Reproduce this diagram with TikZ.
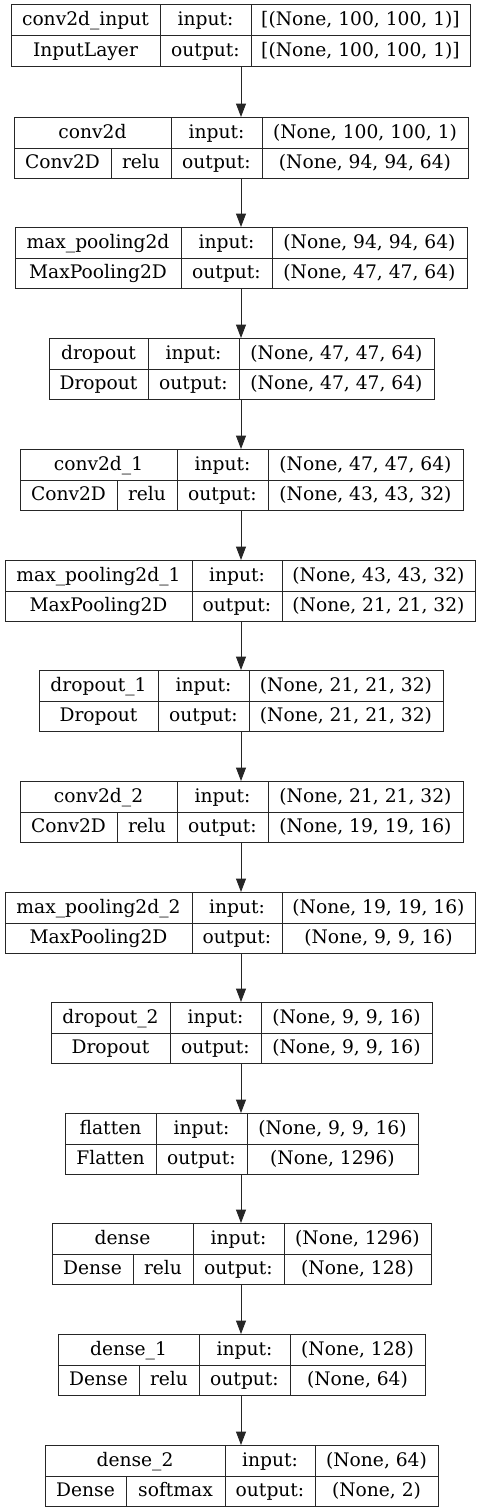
\documentclass[tikz,border=0pt]{standalone}
\usepackage{fontspec}
\setmainfont{DejaVu Serif}
\usetikzlibrary{arrows.meta}
\tikzset{
  ln/.style={draw=black!85, line width=1pt},
  layerbox/.style={ln, rectangle, inner sep=0pt, outer sep=0pt},
  txt/.style={anchor=base, inner sep=0pt, font=\fontsize{18.67}{22}\selectfont, text=black},
  arr/.style={ln, -{Triangle[length=13.5pt, width=10pt]}}
}
% geometry of one layer box
\newcommand\laybox[7]{%
  \pgfmathsetmacro\T{#2}\pgfmathsetmacro\Lx{#3}\pgfmathsetmacro\Rx{#4}%
  \pgfmathsetmacro\cA{#5}\pgfmathsetmacro\cB{#6}\def\cZ{#7}%
  \pgfmathsetmacro\M{\T+31}\pgfmathsetmacro\B{\T+61.5}%
  \pgfmathsetmacro\W{\Rx-\Lx}\pgfmathsetmacro\Cx{(\Lx+\Rx)/2}\pgfmathsetmacro\Cy{\T+30.75}%
  \node[layerbox, minimum width=\W pt, minimum height=61.5pt] (#1) at (\Cx,-\Cy) {};
  \draw[ln] (\Lx,-\M) -- (\Rx,-\M);
  \draw[ln] (\cA,-\T) -- (\cA,-\B);
  \draw[ln] (\cB,-\T) -- (\cB,-\B);
  \ifx\cZ\empty\else\draw[ln] (\cZ,-\M) -- (\cZ,-\B);\fi
}
% texts of the last layer box
\newcommand\laytext[5]{%
  \pgfmathsetmacro\yA{\T+21}\pgfmathsetmacro\yB{\T+51.5}%
  \node[txt] at ({(\Lx+\cA)/2},-\yA) {#1};
  \node[txt] at ({(\cA+\cB)/2},-\yA) {input:};
  \node[txt] at ({(\cB+\Rx)/2},-\yA) {#4};
  \def\act{#3}%
  \ifx\act\empty
    \node[txt] at ({(\Lx+\cA)/2},-\yB) {#2};
  \else
    \node[txt] at ({(\Lx+\cZ)/2},-\yB) {#2};
    \node[txt] at ({(\cZ+\cA)/2},-\yB) {#3};
  \fi
  \node[txt] at ({(\cA+\cB)/2},-\yB) {output:};
  \node[txt] at ({(\cB+\Rx)/2},-\yB) {#5};
}
\begin{document}
\begin{tikzpicture}[x=1pt,y=1pt]
\fill[white] (0,0) rectangle (483,-1512);
\useasboundingbox (0,0) rectangle (483,-1512);
\coordinate (axis) at (241,0);

\laybox{b1}{5}{11}{470}{160}{251}{}
\laytext{conv2d\_input}{InputLayer}{}{[(None, 100, 100, 1)]}{[(None, 100, 100, 1)]}

\laybox{b2}{117}{14}{468}{171}{262}{111}
\laytext{conv2d}{Conv2D}{relu}{(None, 100, 100, 1)}{(None, 94, 94, 64)}

\laybox{b3}{227}{15}{467}{181}{272}{}
\laytext{max\_pooling2d}{MaxPooling2D}{}{(None, 94, 94, 64)}{(None, 47, 47, 64)}

\laybox{b4}{338}{49}{434}{148}{239}{}
\laytext{dropout}{Dropout}{}{(None, 47, 47, 64)}{(None, 47, 47, 64)}

\laybox{b5}{449}{20}{463}{177}{268}{117}
\laytext{conv2d\_1}{Conv2D}{relu}{(None, 47, 47, 64)}{(None, 43, 43, 32)}

\laybox{b6}{560}{5}{475}{192}{282}{}
\laytext{max\_pooling2d\_1}{MaxPooling2D}{}{(None, 43, 43, 32)}{(None, 21, 21, 32)}

\laybox{b7}{670}{39}{443}{158}{249}{}
\laytext{dropout\_1}{Dropout}{}{(None, 21, 21, 32)}{(None, 21, 21, 32)}

\laybox{b8}{781}{20}{463}{177}{268}{117}
\laytext{conv2d\_2}{Conv2D}{relu}{(None, 21, 21, 32)}{(None, 19, 19, 16)}

\laybox{b9}{892}{5}{475}{192}{282}{}
\laytext{max\_pooling2d\_2}{MaxPooling2D}{}{(None, 19, 19, 16)}{(None, 9, 9, 16)}

\laybox{b10}{1002}{51}{432}{170}{261}{}
\laytext{dropout\_2}{Dropout}{}{(None, 9, 9, 16)}{(None, 9, 9, 16)}

\laybox{b11}{1113}{65}{418}{156}{247}{}
\laytext{flatten}{Flatten}{}{(None, 9, 9, 16)}{(None, 1296)}

\laybox{b12}{1223}{52}{431}{193}{284}{133}
\laytext{dense}{Dense}{relu}{(None, 1296)}{(None, 128)}

\laybox{b13}{1334}{58}{425}{199}{290}{139}
\laytext{dense\_1}{Dense}{relu}{(None, 128)}{(None, 64)}

\laybox{b14}{1445}{45}{438}{225}{315}{126}
\laytext{dense\_2}{Dense}{softmax}{(None, 64)}{(None, 2)}

\foreach \a/\b in {b1/b2,b2/b3,b3/b4,b4/b5,b5/b6,b6/b7,b7/b8,b8/b9,b9/b10,b10/b11,b11/b12,b12/b13,b13/b14}
  \draw[arr] (\a.south -| axis) -- (\b.north -| axis);
\end{tikzpicture}
\end{document}
